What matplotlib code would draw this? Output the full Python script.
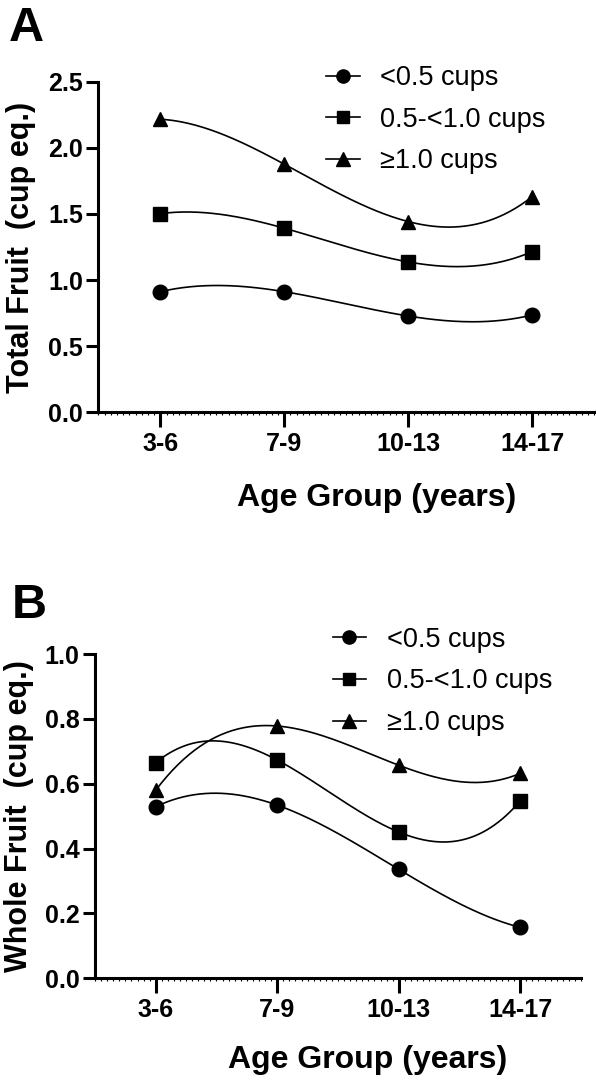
import numpy as np
import matplotlib
matplotlib.use('Agg')
import matplotlib.pyplot as plt
from matplotlib.ticker import MultipleLocator

plt.rcParams['font.family'] = ['Liberation Sans', 'DejaVu Sans']

# data
age_groups = ['3-6', '7-9', '10-13', '14-17']
series_labels = ['<0.5 cups', '0.5-<1.0 cups', '\u22651.0 cups']
markers = ['o', 's', '^']

total_low  = [0.912, 0.912, 0.728, 0.736]
total_mid  = [1.502, 1.392, 1.137, 1.215]
total_high = [2.216, 1.876, 1.442, 1.631]

whole_low  = [0.529, 0.534, 0.336, 0.157]
whole_mid  = [0.665, 0.673, 0.451, 0.547]
whole_high = [0.580, 0.778, 0.657, 0.632]

fig = plt.figure(figsize=(5.96, 10.83), dpi=100)

axA = fig.add_axes([0.165, 0.6193, 0.832, 0.3053])
axB = fig.add_axes([0.1594, 0.0967, 0.8154, 0.2994])


def panel(ax, series, ylabel, ymax, ystep, leg_anchor, xlab_y):
    x = np.arange(len(age_groups))
    xs = np.linspace(0, len(age_groups) - 1, 200)
    for vals, m, lab in zip(series, markers, series_labels):
        coef = np.polyfit(x, vals, 3)
        ax.plot(xs, np.polyval(coef, xs), color='black', lw=1.2, zorder=2)
        ax.plot(x, vals, ls='none', marker=m, color='black',
                markersize=10.5 if m != 's' else 9.8, zorder=3)
        ax.plot([], [], color='black', lw=1.2, marker=m,
                markersize=9.5 if m != 's' else 9, label=lab)

    ax.set_xlim(-0.5, 3.5)
    ax.set_ylim(0, ymax)
    ax.set_xticks(x)
    ax.set_xticklabels(age_groups)
    yt = np.arange(0, ymax + ystep / 2, ystep)
    ax.set_yticks(yt)
    ax.set_yticklabels(['%.1f' % v for v in yt])
    ax.xaxis.set_minor_locator(MultipleLocator(0.05))

    for s in ['top', 'right']:
        ax.spines[s].set_visible(False)
    for s in ['left', 'bottom']:
        ax.spines[s].set_linewidth(2.2)

    ax.tick_params(axis='both', which='major', width=2.2,
                   labelsize=18, direction='out')
    ax.tick_params(axis='x', which='major', length=11, pad=3)
    ax.tick_params(axis='y', which='major', length=9, pad=2)
    ax.tick_params(axis='x', which='minor', length=2, width=0.8)
    for t in ax.get_xticklabels() + ax.get_yticklabels():
        t.set_fontweight('bold')

    ax.set_xlabel('Age Group (years)', fontsize=23, fontweight='bold')
    ax.xaxis.set_label_coords(0.562, xlab_y)
    ax.set_ylabel(ylabel, fontsize=22, fontweight='bold')
    ax.yaxis.set_label_coords(-0.125, 0.5)

    ax.legend(loc='upper left', bbox_to_anchor=leg_anchor,
              bbox_transform=fig.transFigure, frameon=False, fontsize=19.5,
              borderpad=0, borderaxespad=0, handlelength=1.25,
              handletextpad=0.75, labelspacing=0.58)


panel(axA, [total_low, total_mid, total_high], 'Total Fruit  (cup eq.)',
      2.5, 0.5, (0.547, 0.940), -0.215)
panel(axB, [whole_low, whole_mid, whole_high], 'Whole Fruit  (cup eq.)',
      1.0, 0.2, (0.558, 0.4213), -0.205)

fig.text(0.015, 0.962, 'A', fontsize=35, fontweight='bold')
fig.text(0.02, 0.429, 'B', fontsize=35, fontweight='bold')

plt.savefig('out.png', dpi=100)
